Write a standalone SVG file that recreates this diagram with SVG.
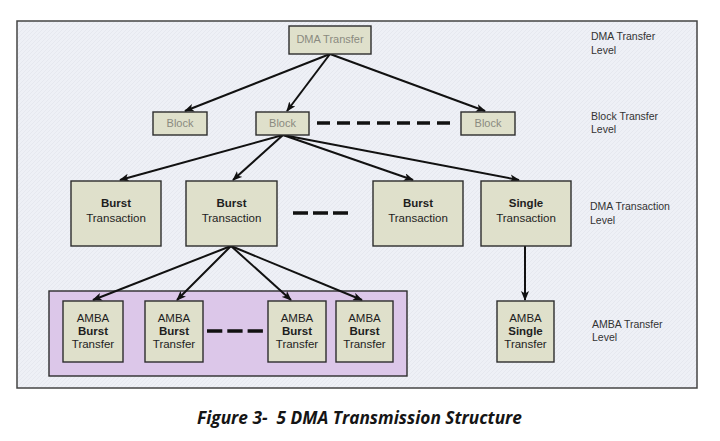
<svg xmlns="http://www.w3.org/2000/svg" width="720" height="441" viewBox="0 0 720 441">
<defs>
<marker id="ah" markerUnits="userSpaceOnUse" markerWidth="10" markerHeight="8" refX="9" refY="4" orient="auto">
<path d="M0,0 L10,4 L0,8 L2.5,4 Z" fill="#111"/>
</marker>
<pattern id="hatch" width="4" height="4" patternUnits="userSpaceOnUse">
<rect width="4" height="4" fill="#eef0f6"/>
<path d="M0,4 L4,0" stroke="#e3e6ee" stroke-width="0.8"/>
</pattern>
</defs>
<style>
.box{fill:#dfe0cb;stroke:#2d2d2d;stroke-width:1.4}
.t{font-family:"Liberation Sans",Arial,sans-serif;font-size:11.5px;fill:#1e1e1e;text-anchor:middle}
.b{font-weight:bold}
.g{font-family:"Liberation Sans",Arial,sans-serif;font-size:11px;fill:#8a8a80;text-anchor:middle}
.lv{font-family:"Liberation Sans",Arial,sans-serif;font-size:10.5px;fill:#333}
.ar{stroke:#111;stroke-width:2;fill:none;marker-end:url(#ah)}
.dash{stroke:#111;stroke-width:3.5;fill:none}
.cap{white-space:pre}
</style>
<rect width="720" height="441" fill="#ffffff"/>
<rect id="frame" x="17" y="21" width="680" height="367" fill="url(#hatch)" stroke="#444" stroke-width="1.5"/>
<rect id="amba-group" x="49" y="291" width="358" height="85" fill="#dcc7e9" stroke="#2d2d2d" stroke-width="1.4"/>

<g id="connectors">
<line class="ar" x1="330" y1="54" x2="185" y2="111"/>
<line class="ar" x1="330" y1="54" x2="287" y2="111"/>
<line class="ar" x1="330" y1="54" x2="485" y2="111"/>
<line class="ar" x1="283" y1="135" x2="120" y2="180"/>
<line class="ar" x1="283" y1="135" x2="233" y2="180"/>
<line class="ar" x1="283" y1="135" x2="413" y2="180"/>
<line class="ar" x1="283" y1="135" x2="519" y2="180"/>
<line class="ar" x1="231" y1="246" x2="93" y2="300"/>
<line class="ar" x1="231" y1="246" x2="177" y2="300"/>
<line class="ar" x1="231" y1="246" x2="291" y2="300"/>
<line class="ar" x1="231" y1="246" x2="362" y2="300"/>
<line class="ar" x1="525" y1="246" x2="525" y2="300"/>
<line class="dash" x1="317" y1="123" x2="450" y2="123" stroke-dasharray="13 7"/>
<line class="dash" x1="293" y1="213" x2="348" y2="213" stroke-dasharray="15 5"/>
<line class="dash" x1="207" y1="331" x2="263" y2="331" stroke-dasharray="15.3 5"/>
</g>

<g id="dma-transfer"><rect class="box" x="289" y="26" width="82" height="28"/><text class="g" x="330" y="43">DMA Transfer</text></g>

<g id="block1"><rect class="box" x="153" y="112" width="54" height="23"/><text class="g" x="180" y="127">Block</text></g>
<g id="block2"><rect class="box" x="256" y="112" width="53" height="23"/><text class="g" x="282.5" y="127">Block</text></g>
<g id="block3"><rect class="box" x="461" y="112" width="54" height="23"/><text class="g" x="488" y="127">Block</text></g>

<g id="burst-tx1"><rect class="box" x="71" y="181" width="90" height="65"/><text class="t b" x="116" y="207">Burst</text><text class="t" x="116" y="222">Transaction</text></g>
<g id="burst-tx2"><rect class="box" x="186" y="181" width="91" height="65"/><text class="t b" x="231.5" y="207">Burst</text><text class="t" x="231.5" y="222">Transaction</text></g>
<g id="burst-tx3"><rect class="box" x="373" y="181" width="90" height="65"/><text class="t b" x="418" y="207">Burst</text><text class="t" x="418" y="222">Transaction</text></g>
<g id="single-tx"><rect class="box" x="481" y="181" width="90" height="65"/><text class="t b" x="526" y="207">Single</text><text class="t" x="526" y="222">Transaction</text></g>

<g id="amba-burst1"><rect class="box" x="63" y="301" width="60" height="61"/><text class="t" x="93" y="322">AMBA</text><text class="t b" x="93" y="335">Burst</text><text class="t" x="93" y="348">Transfer</text></g>
<g id="amba-burst2"><rect class="box" x="145" y="301" width="58" height="61"/><text class="t" x="174" y="322">AMBA</text><text class="t b" x="174" y="335">Burst</text><text class="t" x="174" y="348">Transfer</text></g>
<g id="amba-burst3"><rect class="box" x="268" y="301" width="58" height="61"/><text class="t" x="297" y="322">AMBA</text><text class="t b" x="297" y="335">Burst</text><text class="t" x="297" y="348">Transfer</text></g>
<g id="amba-burst4"><rect class="box" x="336" y="301" width="57" height="61"/><text class="t" x="364.5" y="322">AMBA</text><text class="t b" x="364.5" y="335">Burst</text><text class="t" x="364.5" y="348">Transfer</text></g>
<g id="amba-single"><rect class="box" x="497" y="301" width="57" height="61"/><text class="t" x="525.5" y="322">AMBA</text><text class="t b" x="525.5" y="335">Single</text><text class="t" x="525.5" y="348">Transfer</text></g>

<g id="level-labels">
<text class="lv" x="591" y="40">DMA Transfer</text><text class="lv" x="591" y="54">Level</text>
<text class="lv" x="591" y="120">Block Transfer</text><text class="lv" x="591" y="133">Level</text>
<text class="lv" x="590" y="210">DMA Transaction</text><text class="lv" x="590" y="224">Level</text>
<text class="lv" x="592" y="328">AMBA Transfer</text><text class="lv" x="592" y="341">Level</text>
</g>

<text id="caption" class="cap" xml:space="preserve" x="197" y="424" font-family="'Open Sans','Noto Sans',sans-serif" font-size="17" font-weight="bold" font-style="italic" fill="#151515" textLength="325" lengthAdjust="spacingAndGlyphs">Figure 3-  5 DMA Transmission Structure</text>
</svg>
